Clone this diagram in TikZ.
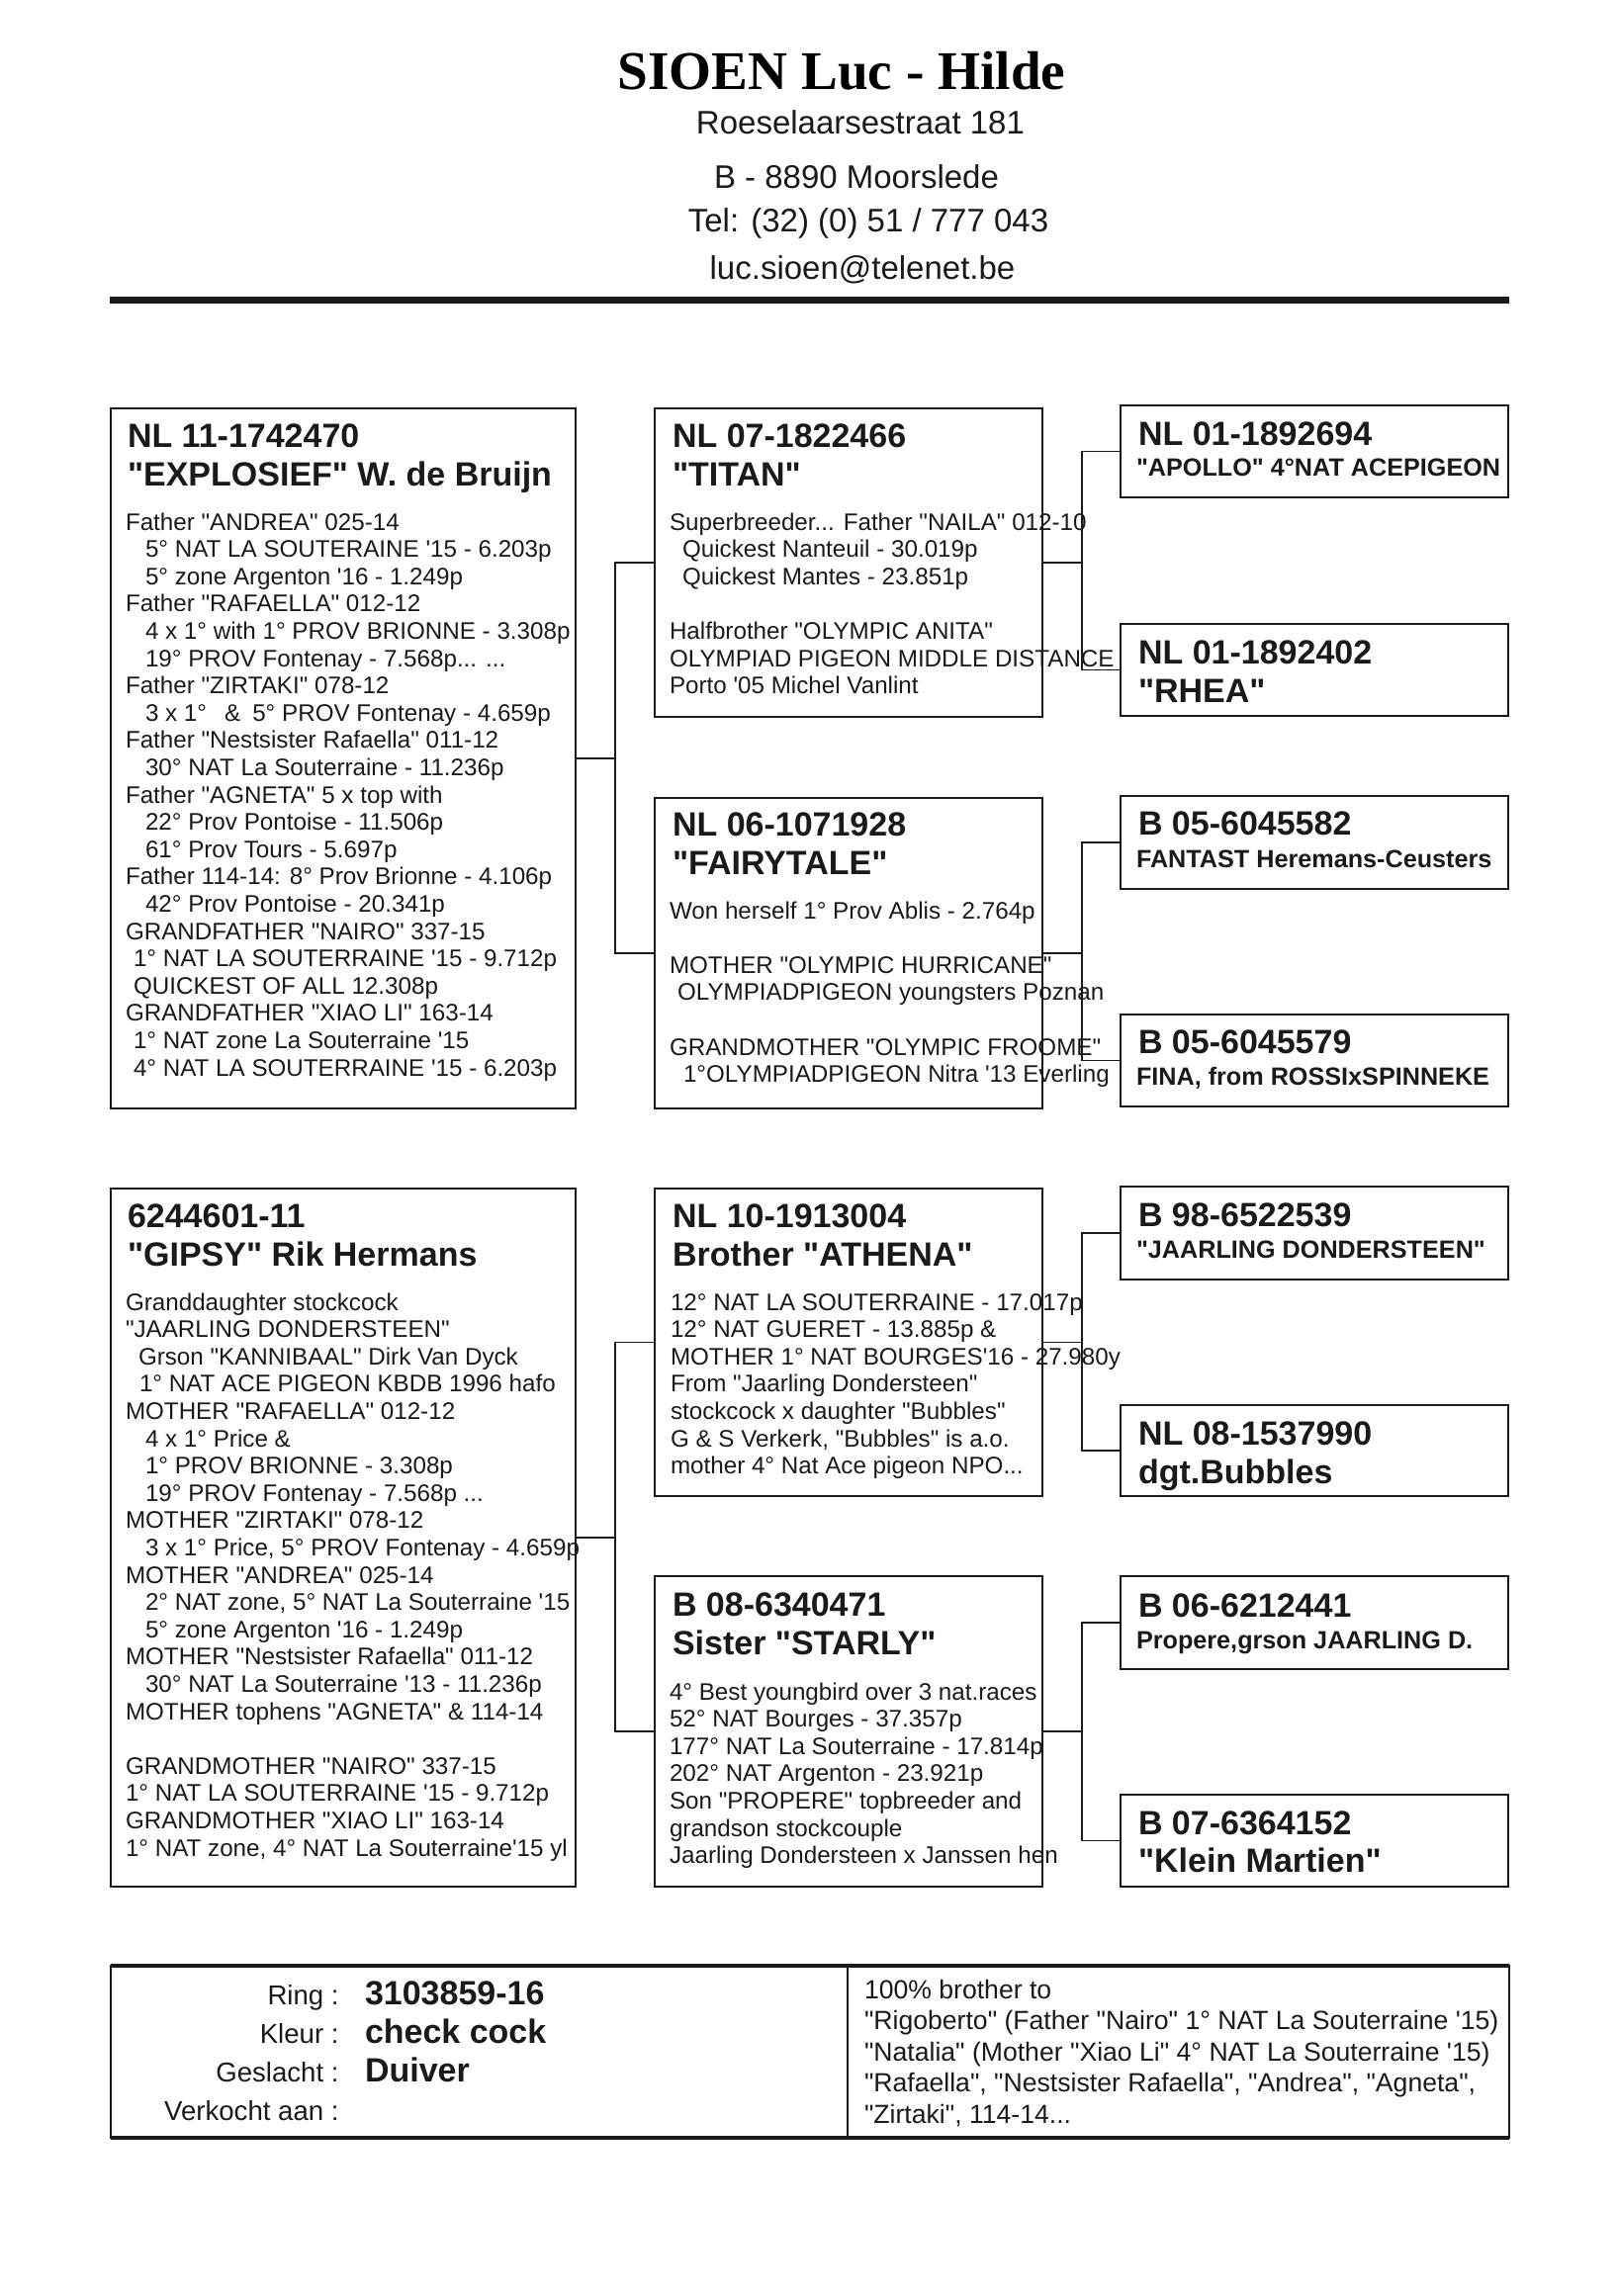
\documentclass[tikz,border=0pt]{standalone}
\usepackage{fontspec}
\newfontfamily\arial{Liberation Sans}
\newfontfamily\tnr{Liberation Serif}
\usetikzlibrary{fit}
\definecolor{ink}{HTML}{1A1A1A}
\newcommand\titlef{\tnr\bfseries\fontsize{27.6}{30}\selectfont}
\newcommand\addrf{\arial\fontsize{16.5}{18}\selectfont}
\newcommand\headf{\arial\bfseries\fontsize{17}{19.5}\selectfont}
\newcommand\smallhf{\arial\bfseries\fontsize{12.6}{14}\selectfont}
\newcommand\bodyf{\arial\fontsize{12.1}{13.8}\selectfont}
\newcommand\footlf{\arial\fontsize{13.8}{19.5}\selectfont}
\newcommand\footvf{\arial\bfseries\fontsize{17}{19.5}\selectfont}
\newcommand\footrf{\arial\fontsize{13.3}{15.75}\selectfont}
\newcommand\inda{\hspace*{10pt}}
\newcommand\indb{\hspace*{4pt}}
\newcommand\indc{\hspace*{6.5pt}}
\newcommand\tlines[1]{\begin{tabular}[t]{@{}l@{}}#1\end{tabular}}
\newcommand\rlines[1]{\begin{tabular}[t]{@{}r@{}}#1\end{tabular}}
\begin{document}
\begin{tikzpicture}[x=0.5pt,y=-0.5pt,
  box/.style={draw=ink,line width=1.1pt,inner sep=0pt,outer sep=0pt},
  link/.style={draw=ink,line width=0.8pt},
  txt/.style={anchor=base west,inner sep=0pt,outer sep=0pt,text=ink},
  ctr/.style={anchor=base,inner sep=0pt,outer sep=0pt,text=ink}]
\fill[white] (0,0) rectangle (1636,2322);
\useasboundingbox (0,0) rectangle (1636,2322);

% header
\node[ctr,font=\titlef,text=black] (title) at (851,91) {SIOEN Luc - Hilde};
\node[ctr,font=\addrf] (addr1) at (870,136) {Roeselaarsestraat 181};
\node[ctr,font=\addrf] (addr2) at (866,191) {B - 8890 Moorslede};
\node[ctr,font=\addrf] (addr3) at (878,235) {Tel: (32) (0) 51 / 777 043};
\node[ctr,font=\addrf] (addr4) at (872,283) {luc.sioen@telenet.be};
\node[fill=ink,inner sep=0pt,outer sep=0pt,fit={(111,300.5)(1526,307.5)}] (rule) {};

% boxes
\node[box,fit={(112,413)(582,1121)}] (A) {};
\node[box,fit={(662,413)(1054,725)}] (B) {};
\node[box,fit={(662,807)(1054,1121)}] (C) {};
\node[box,fit={(1133,410)(1525,503)}] (D) {};
\node[box,fit={(1133,631)(1525,724)}] (E) {};
\node[box,fit={(1133,805)(1525,899)}] (F) {};
\node[box,fit={(1133,1026)(1525,1119)}] (G) {};
\node[box,fit={(112,1202)(582,1908)}] (H) {};
\node[box,fit={(662,1202)(1054,1513)}] (I) {};
\node[box,fit={(662,1594)(1054,1908)}] (J) {};
\node[box,fit={(1133,1200)(1525,1294)}] (K) {};
\node[box,fit={(1133,1421)(1525,1513)}] (L) {};
\node[box,fit={(1133,1594)(1525,1688)}] (M) {};
\node[box,fit={(1133,1815)(1525,1908)}] (N) {};

% connectors
\draw[link] (A.east) -- ++(40,0) coordinate (jA) |- (B.west);
\draw[link] (jA) |- (C.west);
\draw[link] (B.east) -- ++(40,0) coordinate (jB) |- (D.west);
\draw[link] (jB) |- (E.west);
\draw[link] (C.east) -- ++(40,0) coordinate (jC) |- (F.west);
\draw[link] (jC) |- (G.west);
\draw[link] (H.east) -- ++(40,0) coordinate (jH) |- (I.west);
\draw[link] (jH) |- (J.west);
\draw[link] (I.east) -- ++(40,0) coordinate (jI) |- (K.west);
\draw[link] (jI) |- (L.west);
\draw[link] (J.east) -- ++(40,0) coordinate (jJ) |- (M.west);
\draw[link] (jJ) |- (N.west);

% box A
\node[txt,font=\headf] (Ah) at (129,452) {\tlines{NL 11-1742470\\ "EXPLOSIEF" W. de Bruijn}};
\node[txt,font=\bodyf] (Ab) at (127,536) {\tlines{%
Father "ANDREA" 025-14\\
\inda 5° NAT LA SOUTERAINE '15 - 6.203p\\
\inda 5° zone Argenton '16 - 1.249p\\
Father "RAFAELLA" 012-12\\
\inda 4 x 1° with 1° PROV BRIONNE - 3.308p\\
\inda 19° PROV Fontenay - 7.568p... ...\\
Father "ZIRTAKI" 078-12\\
\inda 3 x 1°\hspace{9pt}\&\hspace{6pt}5° PROV Fontenay - 4.659p\\
Father "Nestsister Rafaella" 011-12\\
\inda 30° NAT La Souterraine - 11.236p\\
Father "AGNETA" 5 x top with\\
\inda 22° Prov Pontoise - 11.506p\\
\inda 61° Prov Tours - 5.697p\\
Father 114-14: 8° Prov Brionne - 4.106p\\
\inda 42° Prov Pontoise - 20.341p\\
GRANDFATHER "NAIRO" 337-15\\
\indb 1° NAT LA SOUTERRAINE '15 - 9.712p\\
\indb QUICKEST OF ALL 12.308p\\
GRANDFATHER "XIAO LI" 163-14\\
\indb 1° NAT zone La Souterraine '15\\
\indb 4° NAT LA SOUTERRAINE '15 - 6.203p}};

% box B
\node[txt,font=\headf] (Bh) at (680,452) {\tlines{NL 07-1822466\\ "TITAN"}};
\node[txt,font=\bodyf] (Bb) at (677,536) {\tlines{%
Superbreeder... Father "NAILA" 012-10\\
\indc Quickest Nanteuil - 30.019p\\
\indc Quickest Mantes - 23.851p\\
\\
Halfbrother "OLYMPIC ANITA"\\
OLYMPIAD PIGEON MIDDLE DISTANCE\\
Porto '05 Michel Vanlint}};

% box C
\node[txt,font=\headf] (Ch) at (680,845) {\tlines{NL 06-1071928\\ "FAIRYTALE"}};
\node[txt,font=\bodyf] (Cb) at (677,929) {\tlines{%
Won herself 1° Prov Ablis - 2.764p\\
\\
MOTHER "OLYMPIC HURRICANE"\\
\indb OLYMPIADPIGEON youngsters Poznan\\
\\
GRANDMOTHER "OLYMPIC FROOME"\\
\hspace*{7pt}1°OLYMPIADPIGEON Nitra '13 Everling}};

% right column, top
\node[txt,font=\headf] (Dh) at (1151,450) {NL 01-1892694};
\node[txt,font=\smallhf] (Dn) at (1149,481) {"APOLLO" 4°NAT ACEPIGEON};
\node[txt,font=\headf] (Eh) at (1151,671) {NL 01-1892402};
\node[txt,font=\headf] (En) at (1151,710) {"RHEA"};
\node[txt,font=\headf] (Fh) at (1151,844) {B 05-6045582};
\node[txt,font=\smallhf] (Fn) at (1149,877) {FANTAST Heremans-Ceusters};
\node[txt,font=\headf] (Gh) at (1151,1065) {B 05-6045579};
\node[txt,font=\smallhf] (Gn) at (1149,1097) {FINA, from ROSSIxSPINNEKE};

% box H
\node[txt,font=\headf] (Hh) at (129,1241) {\tlines{6244601-11\\ "GIPSY" Rik Hermans}};
\node[txt,font=\bodyf] (Hb) at (127,1325) {\tlines{%
Granddaughter stockcock\\
"JAARLING DONDERSTEEN"\\
\indc Grson "KANNIBAAL" Dirk Van Dyck\\
\hspace*{7pt}1° NAT ACE PIGEON KBDB 1996 hafo\\
MOTHER "RAFAELLA" 012-12\\
\inda 4 x 1° Price \&\\
\inda 1° PROV BRIONNE - 3.308p\\
\inda 19° PROV Fontenay - 7.568p ...\\
MOTHER "ZIRTAKI" 078-12\\
\inda 3 x 1° Price, 5° PROV Fontenay - 4.659p\\
MOTHER "ANDREA" 025-14\\
\inda 2° NAT zone, 5° NAT La Souterraine '15\\
\inda 5° zone Argenton '16 - 1.249p\\
MOTHER "Nestsister Rafaella" 011-12\\
\inda 30° NAT La Souterraine '13 - 11.236p\\
MOTHER tophens "AGNETA" \& 114-14\\
\\
GRANDMOTHER "NAIRO" 337-15\\
1° NAT LA SOUTERRAINE '15 - 9.712p\\
GRANDMOTHER "XIAO LI" 163-14\\
1° NAT zone, 4° NAT La Souterraine'15 yl}};

% box I
\node[txt,font=\headf] (Ih) at (680,1241) {\tlines{NL 10-1913004\\ Brother "ATHENA"}};
\node[txt,font=\bodyf] (Ib) at (678,1325) {\tlines{%
12° NAT LA SOUTERRAINE - 17.017p\\
12° NAT GUERET - 13.885p \&\\
MOTHER 1° NAT BOURGES'16 - 27.980y\\
From "Jaarling Dondersteen"\\
stockcock x daughter "Bubbles"\\
G \& S Verkerk, "Bubbles" is a.o.\\
mother 4° Nat Ace pigeon NPO...}};

% box J
\node[txt,font=\headf] (Jh) at (680,1634) {\tlines{B 08-6340471\\ Sister "STARLY"}};
\node[txt,font=\bodyf] (Jb) at (677,1719) {\tlines{%
4° Best youngbird over 3 nat.races\\
52° NAT Bourges - 37.357p\\
177° NAT La Souterraine - 17.814p\\
202° NAT Argenton - 23.921p\\
Son "PROPERE" topbreeder and\\
grandson stockcouple\\
Jaarling Dondersteen x Janssen hen}};

% right column, bottom
\node[txt,font=\headf] (Kh) at (1151,1240) {B 98-6522539};
\node[txt,font=\smallhf] (Kn) at (1149,1272) {"JAARLING DONDERSTEEN"};
\node[txt,font=\headf] (Lh) at (1151,1461) {NL 08-1537990};
\node[txt,font=\headf] (Ln) at (1151,1500) {dgt.Bubbles};
\node[txt,font=\headf] (Mh) at (1151,1635) {B 06-6212441};
\node[txt,font=\smallhf] (Mn) at (1149,1667) {Propere,grson JAARLING D.};
\node[txt,font=\headf] (Nh) at (1151,1855) {B 07-6364152};
\node[txt,font=\headf] (Nn) at (1151,1893) {"Klein Martien"};

% footer
\node[box,fit={(112,1988)(1526,2162)}] (foot) {};
\draw[ink,line width=1.8pt] (foot.north west) -- (foot.north east);
\draw[ink,line width=1.8pt] (foot.south west) -- (foot.south east);
\coordinate (dv) at (857,2000);
\draw[link] (foot.north -| dv) -- (foot.south -| dv);
\node[anchor=base east,inner sep=0pt,text=ink,font=\footlf] (flab) at (343,2027) {\rlines{Ring :\\Kleur :\\Geslacht :\\Verkocht aan :}};
\node[txt,font=\footvf] (fval) at (369,2027) {\tlines{3103859-16\\check cock\\Duiver}};
\node[txt,font=\footrf] (fnote) at (874,2021) {\tlines{%
100\% brother to\\
"Rigoberto" (Father "Nairo" 1° NAT La Souterraine '15)\\
"Natalia" (Mother "Xiao Li" 4° NAT La Souterraine '15)\\
"Rafaella", "Nestsister Rafaella", "Andrea", "Agneta",\\
"Zirtaki", 114-14...}};
\end{tikzpicture}
\end{document}
